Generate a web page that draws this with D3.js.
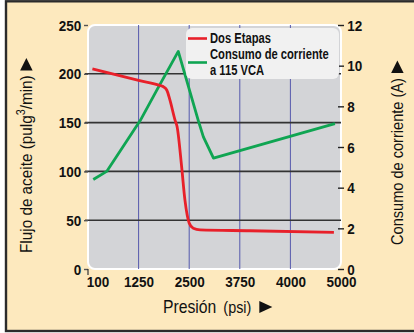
<!DOCTYPE html>
<html>
<head>
<meta charset="utf-8">
<script src="https://cdn.jsdelivr.net/npm/d3@7"></script>
<style>
  html, body { margin: 0; padding: 0; background: #ffffff; }
  svg { display: block; }
  text { font-family: "Liberation Sans", Arial, Helvetica, sans-serif; fill: #111; }
</style>
</head>
<body>
<svg id="chart" width="414" height="333"></svg>
<script>
// Pressure ticks (psi) – the axis spaces them evenly
const pressureTicks = [100, 1250, 2500, 3750, 4000, 5000];
// Left axis: oil flow (pulg³/min)
const flowTicks = [0, 50, 100, 150, 200, 250];
// Right axis: current draw (A)
const currentTicks = [0, 2, 4, 6, 8, 10, 12];

// "Dos Etapas" oil flow vs pressure  [psi, pulg³/min]
const dosEtapasPressure = [200, 1250, 1820, 1860, 1945, 2025, 2150, 2200, 2315, 2395, 2500, 2600, 2770, 3800, 4860];
const dosEtapasFlow     = [205, 193.2, 187.5, 186.8, 183.4, 173, 152.6, 146, 104, 70.5, 47, 41.7, 40, 39.2, 37.6];

// Current draw at 115 VCA vs pressure  [psi, A]
const corrientePressure = [220, 525, 1290, 1700, 2230, 2725, 2850, 3100, 4880];
const corrienteAmps     = [4.4, 4.8, 7.3, 8.8, 10.7, 7.3, 6.5, 5.45, 7.15];

const legendLabels = ["Dos Etapas", "Consumo de corriente", "a 115 VCA"];

const colors = {
  page: "#fde9be",
  plot: "#d3d4d7",
  legend: "#f1f1f1",
  red: "#e8202a",
  green: "#0fa552",
  vgrid: "#5559ad",
  hgrid: "#333333"
};

// horizontal squeeze that gives the condensed lettering
const TICK_SQUEEZE = 0.9;
const LEGEND_SQUEEZE = 0.8;
const TITLE_SQUEEZE = 0.9;

const svg = d3.select("#chart");
const W = 414;
const plot = { left: 88, right: 341, top: 25, bottom: 269 };

// Framed beige panel
svg.append("rect")
  .attr("x", 6).attr("y", 1.3)
  .attr("width", W + 10).attr("height", 329.7)
  .attr("fill", colors.page)
  .attr("stroke", "#2b2b2b").attr("stroke-width", 2.4);

// Scales
const step = (plot.right - plot.left) / (pressureTicks.length - 1);
const x = d3.scaleLinear()
  .domain(pressureTicks)
  .range(pressureTicks.map((d, i) => plot.left + i * step));
const yFlow = d3.scaleLinear().domain([0, 250]).range([plot.bottom, plot.top]);
const yAmp = d3.scaleLinear().domain([0, 12]).range([plot.bottom, plot.top]);

// Plot background with rounded corners and white edge
svg.append("rect")
  .attr("x", plot.left).attr("y", plot.top)
  .attr("width", plot.right - plot.left).attr("height", plot.bottom - plot.top)
  .attr("rx", 7).attr("ry", 7)
  .attr("fill", colors.plot)
  .attr("stroke", "#ffffff").attr("stroke-width", 2);

// Vertical (blue) grid lines at inner pressure ticks
svg.append("g")
  .selectAll("line")
  .data(pressureTicks.slice(1, -1))
  .join("line")
  .attr("x1", d => x(d)).attr("x2", d => x(d))
  .attr("y1", plot.top).attr("y2", plot.bottom)
  .attr("stroke", colors.vgrid).attr("stroke-width", 1);

// Horizontal grid lines at inner flow ticks
svg.append("g")
  .selectAll("line")
  .data(flowTicks.slice(1, -1))
  .join("line")
  .attr("x1", plot.left - 3).attr("x2", plot.right)
  .attr("y1", d => yFlow(d)).attr("y2", d => yFlow(d))
  .attr("stroke", colors.hgrid).attr("stroke-width", 1.6);

function styleTickText(sel) {
  sel.attr("font-size", 15).attr("font-weight", "bold").attr("fill", "#111");
}

// Left axis
const leftAxis = svg.append("g")
  .attr("transform", `translate(${plot.left},0)`)
  .call(d3.axisLeft(yFlow).tickValues(flowTicks).tickSize(4).tickPadding(3));
leftAxis.select(".domain").remove();
leftAxis.selectAll(".tick line").attr("stroke", "#555").attr("stroke-width", 1.4);
leftAxis.selectAll(".tick text")
  .call(styleTickText)
  .attr("x", -7.5)
  .attr("dy", "0.34em")
  .attr("transform", `scale(${TICK_SQUEEZE},1)`);

// Right axis
const rightAxis = svg.append("g")
  .attr("transform", `translate(${plot.right},0)`)
  .call(d3.axisRight(yAmp).tickValues(currentTicks).tickSize(0).tickPadding(0));
rightAxis.select(".domain").remove();
rightAxis.selectAll(".tick text")
  .call(styleTickText)
  .attr("dy", "0.34em")
  .attr("x", 7)
  .attr("transform", `scale(${TICK_SQUEEZE},1)`);
rightAxis.selectAll(".tick").append("line")
  .attr("x1", -3).attr("x2", 3).attr("y1", 0).attr("y2", 0)
  .attr("stroke", "#222").attr("stroke-width", 1.4);

// Bottom axis
const bottomAxis = svg.append("g")
  .attr("transform", `translate(0,${plot.bottom})`)
  .call(d3.axisBottom(x).tickValues(pressureTicks).tickSize(0).tickPadding(7).tickFormat(d3.format("d")));
bottomAxis.select(".domain").remove();
bottomAxis.selectAll(".tick text")
  .call(styleTickText)
  .attr("transform", `scale(${TICK_SQUEEZE},1)`);
bottomAxis.selectAll(".tick").filter(d => d === pressureTicks[0])
  .select("text").attr("text-anchor", "start").attr("x", -2);
// small cross at the origin
svg.append("line")
  .attr("x1", plot.left).attr("x2", plot.left)
  .attr("y1", plot.bottom).attr("y2", plot.bottom + 6)
  .attr("stroke", "#333").attr("stroke-width", 1.2);

// Data lines
const redLine = d3.line()
  .x(i => x(dosEtapasPressure[i]))
  .y(i => yFlow(dosEtapasFlow[i]))
  .curve(d3.curveMonotoneX);
const greenLine = d3.line()
  .x(i => x(corrientePressure[i]))
  .y(i => yAmp(corrienteAmps[i]));

svg.append("path")
  .attr("d", greenLine(d3.range(corrientePressure.length)))
  .attr("fill", "none").attr("stroke", colors.green)
  .attr("stroke-width", 2.8).attr("stroke-linejoin", "round");

svg.append("path")
  .attr("d", redLine(d3.range(dosEtapasPressure.length)))
  .attr("fill", "none").attr("stroke", colors.red)
  .attr("stroke-width", 2.8).attr("stroke-linejoin", "round");

// Legend
const legend = svg.append("g").attr("transform", "translate(186,28)");
legend.append("rect")
  .attr("width", 153).attr("height", 51)
  .attr("rx", 6).attr("ry", 6)
  .attr("fill", colors.legend);
legend.append("line")
  .attr("x1", 2).attr("x2", 21).attr("y1", 10.5).attr("y2", 10.5)
  .attr("stroke", colors.red).attr("stroke-width", 2.6);
legend.append("line")
  .attr("x1", 2).attr("x2", 21).attr("y1", 34.5).attr("y2", 34.5)
  .attr("stroke", colors.green).attr("stroke-width", 2.6);
legend.selectAll("text.lg")
  .data(legendLabels)
  .join("text")
  .attr("class", "lg")
  .attr("transform", (d, i) => `translate(24,${14.5 + i * 16.3}) scale(${LEGEND_SQUEEZE},1)`)
  .attr("font-size", 14).attr("font-weight", "bold")
  .text(d => d);

// Axis titles with a trailing triangle marker
function titleWithArrow(g, parts, arrowSize) {
  const t = g.append("text").attr("x", 0).attr("y", 0)
    .attr("transform", `scale(${TITLE_SQUEEZE},1)`);
  parts.forEach(p => {
    const ts = t.append("tspan").text(p.text).attr("font-size", p.size);
    if (p.dy) ts.attr("dy", p.dy);
  });
  const len = t.node().getComputedTextLength() * TITLE_SQUEEZE;
  const ax = len + 5;
  g.append("path")
    .attr("d", `M${ax},${-arrowSize * 0.95} L${ax + arrowSize},${-arrowSize * 0.45} L${ax},${arrowSize * 0.05} Z`)
    .attr("fill", "#111");
}

// Left title
titleWithArrow(
  svg.append("g").attr("transform", "translate(32,253) rotate(-90)"),
  [
    { text: "Flujo de aceite (pulg", size: 17 },
    { text: "3", size: 12, dy: -7 },
    { text: "/min)", size: 17, dy: 7 }
  ],
  12.5
);

// Right title
titleWithArrow(
  svg.append("g").attr("transform", "translate(403,245) rotate(-90)"),
  [{ text: "Consumo de corriente (A)", size: 16.2 }],
  12.5
);

// Bottom title
const bt = svg.append("g").attr("transform", "translate(163,313)");
const bt1 = bt.append("text").attr("font-size", 17.5)
  .attr("transform", `scale(${TITLE_SQUEEZE},1)`).text("Presión");
const w1 = bt1.node().getComputedTextLength() * TITLE_SQUEEZE;
const bt2 = bt.append("text").attr("font-size", 16)
  .attr("transform", `translate(${w1 + 7},0) scale(${TITLE_SQUEEZE},1)`).text("(psi)");
const w2 = bt2.node().getComputedTextLength() * TITLE_SQUEEZE;
const ax0 = w1 + 7 + w2 + 8;
bt.append("path")
  .attr("d", `M${ax0},-12 L${ax0 + 13},-6 L${ax0},0 Z`)
  .attr("fill", "#111");
</script>
</body>
</html>
